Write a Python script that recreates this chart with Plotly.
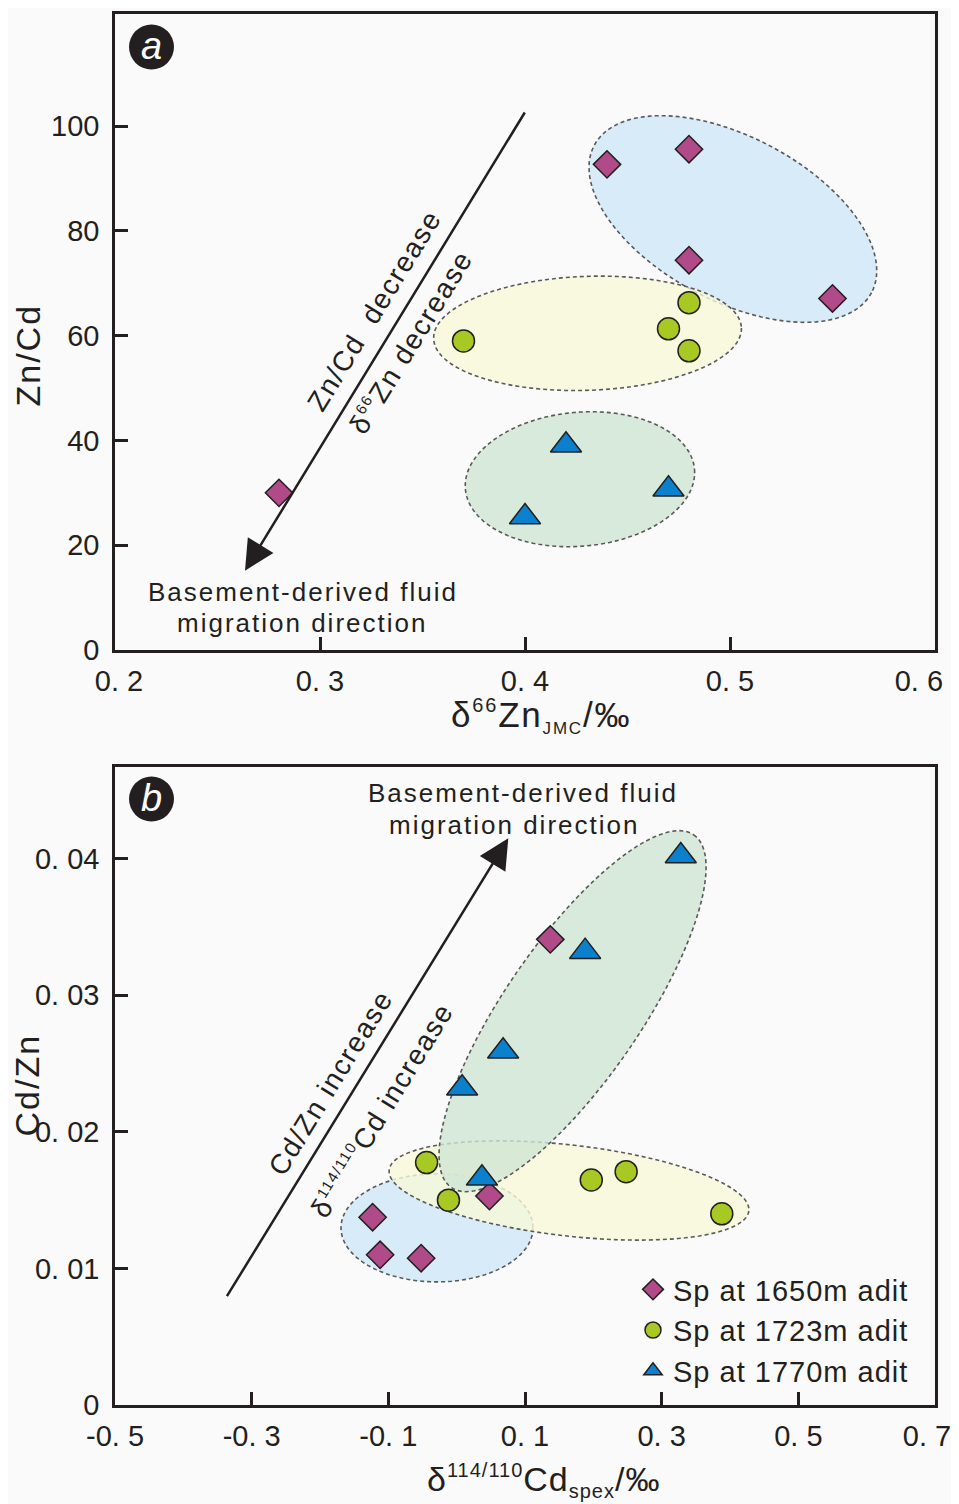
import numpy as np
import plotly.graph_objects as go

# ---------------- data ----------------
# panel a : delta66Zn vs Zn/Cd
a_1650_x = [0.44, 0.48, 0.48, 0.55, 0.28]
a_1650_y = [92.7, 95.6, 74.4, 67.1, 30.0]
a_1723_x = [0.37, 0.48, 0.47, 0.48]
a_1723_y = [59.0, 66.3, 61.3, 57.1]
a_1770_x = [0.42, 0.47, 0.40]
a_1770_y = [39.1, 30.7, 25.4]

# panel b : delta114/110Cd vs Cd/Zn
b_1650_x = [0.137, 0.048, -0.123, -0.112, -0.052]
b_1650_y = [0.0341, 0.0153, 0.01375, 0.0110, 0.01075]
b_1723_x = [-0.044, -0.012, 0.197, 0.248, 0.388]
b_1723_y = [0.01775, 0.0150, 0.01648, 0.01709, 0.0140]
b_1770_x = [0.328, 0.188, 0.068, 0.008, 0.037]
b_1770_y = [0.0402, 0.0332, 0.0259, 0.0232, 0.0166]

a_xticks = [0.2, 0.3, 0.4, 0.5, 0.6]
a_xtext = ["\u00a00. 2", "0. 3", "0. 4", "0. 5", "0. 6\u00a0\u00a0\u00a0\u00a0"]
a_yticks = [0, 20, 40, 60, 80, 100]
b_xticks = [-0.5, -0.3, -0.1, 0.1, 0.3, 0.5, 0.7]
b_xtext = ["-0. 5", "-0. 3", "-0. 1", "0. 1", "0. 3", "0. 5", "0. 7\u00a0\u00a0"]
b_yticks = [0, 0.01, 0.02, 0.03, 0.04]
b_ytext = ["0", "0. 01", "0. 02", "0. 03", "0. 04"]

series_names = ["Sp at 1650m adit", "Sp at 1723m adit", "Sp at 1770m adit"]

# ---------------- styling ----------------
OFF = 8                      # page body margin
W, H = 959 - OFF, 1504 - OFF
PL, PR = 115, 935
A_T, A_B = 13.5, 650
B_T, B_B = 767.3, 1405
A_XR = [0.2, 0.6]
A_YR = [0, 121.5]
B_XR = [-0.5, 0.7]
B_YR = [0, 0.0467]

FONT = "Liberation Sans, Arial, sans-serif"
DARK = "#231f20"
C_DIA = "#b04a88"
C_CIR = "#a8c823"
C_TRI = "#0b80cc"


def fx(px):
    return (px - OFF) / W


def fy(py):
    return 1 - (py - OFF) / H


kxa = (PR - PL) / (A_XR[1] - A_XR[0])
kya = (A_B - A_T) / (A_YR[1] - A_YR[0])
kxb = (PR - PL) / (B_XR[1] - B_XR[0])
kyb = (B_B - B_T) / (B_YR[1] - B_YR[0])


def ls(text, px):
    return f'<span style="letter-spacing:{px}px">{text}</span>'


def ellipse_path(cx, cy, a_px, b_px, ang, kx, ky, n=120):
    t = np.linspace(0, 2 * np.pi, n, endpoint=False)
    th = np.radians(ang)
    dx = a_px * np.cos(t) * np.cos(th) - b_px * np.sin(t) * np.sin(th)
    dy = a_px * np.cos(t) * np.sin(th) + b_px * np.sin(t) * np.cos(th)
    xs = cx + dx / kx
    ys = cy - dy / ky
    return "M " + " L ".join(f"{x:.6f},{y:.7f}" for x, y in zip(xs, ys)) + " Z"


fig = go.Figure()

mk_line = dict(color=DARK, width=1.5)


def add_series(xs, ys, sym, size, color, name, xa, ya, show):
    fig.add_trace(go.Scatter(
        x=xs, y=ys, mode="markers", name=ls(name, 1),
        marker=dict(symbol=sym, size=size, color=color, line=mk_line),
        xaxis=xa, yaxis=ya, showlegend=show, cliponaxis=False))


add_series(a_1650_x, a_1650_y, "diamond", 21, C_DIA, series_names[0], "x", "y", False)
add_series(a_1723_x, a_1723_y, "circle", 22, C_CIR, series_names[1], "x", "y", False)
add_series(a_1770_x, a_1770_y, "triangle-up", 27, C_TRI, series_names[2], "x", "y", False)
add_series(b_1650_x, b_1650_y, "diamond", 21, C_DIA, series_names[0], "x2", "y2", True)
add_series(b_1723_x, b_1723_y, "circle", 22, C_CIR, series_names[1], "x2", "y2", True)
add_series(b_1770_x, b_1770_y, "triangle-up", 27, C_TRI, series_names[2], "x2", "y2", True)

# ---------------- ellipses ----------------
BLUE_F = "rgba(207,231,247,0.8)"
YEL_F = "rgba(247,249,215,0.8)"
GRN_F = "rgba(207,230,211,0.8)"
ELINE = dict(color="#5a5a5a", width=1.6, dash="4px,3px")

shapes = []
for (cx, cy, a, b, ang, col) in [
    (0.5014, 82.27, 157, 82, 28, BLUE_F),
    (0.4305, 60.45, 154, 57, -2, YEL_F),
    (0.4268, 32.6, 115, 67, -5, GRN_F),
]:
    shapes.append(dict(type="path", xref="x", yref="y", layer="below",
                       path=ellipse_path(cx, cy, a, b, ang, kxa, kya),
                       fillcolor=col, line=ELINE))
for (cx, cy, a, b, ang, col) in [
    (-0.0288, 0.01297, 96, 54, 0, BLUE_F),
    (0.1644, 0.01571, 181, 45.5, 6.5, YEL_F),
    (0.1696, 0.02884, 214, 68, -55.5, GRN_F),
]:
    shapes.append(dict(type="path", xref="x2", yref="y2", layer="below",
                       path=ellipse_path(cx, cy, a, b, ang, kxb, kyb),
                       fillcolor=col, line=ELINE))

# panel label discs
for cyp in (47, 799):
    shapes.append(dict(type="circle", xref="paper", yref="paper",
                       x0=fx(151.5 - 22.5), x1=fx(151.5 + 22.5),
                       y0=fy(cyp + 22.5), y1=fy(cyp - 22.5),
                       fillcolor=DARK, line=dict(width=0)))

# ---------------- annotations ----------------
anns = []


def txt(text, x, y, size, xref="paper", yref="paper", angle=0, color=DARK,
        xanchor="center", yanchor="middle"):
    anns.append(dict(text=text, x=x, y=y, xref=xref, yref=yref, showarrow=False,
                     textangle=angle, font=dict(family=FONT, size=size, color=color),
                     xanchor=xanchor, yanchor=yanchor))


def px2a(px, py):
    return A_XR[0] + (px - PL) / kxa, A_YR[0] + (A_B - py) / kya


def px2b(px, py):
    return B_XR[0] + (px - PL) / kxb, B_YR[0] + (B_B - py) / kyb


# panel labels
txt("<i>a</i>", fx(151.5), fy(46), 38, color="white")
txt("<i>b</i>", fx(151.5), fy(798), 38, color="white")

# arrows
tip_a = px2a(245, 570.7)
tail_a = px2a(525.7, 111)
tip_b = px2b(508.3, 838.3)
tail_b = px2b(226, 1297.7)
for tip, tail, xr, yr in [(tip_a, tail_a, "x", "y"), (tip_b, tail_b, "x2", "y2")]:
    anns.append(dict(text="", x=tip[0], y=tip[1], ax=tail[0], ay=tail[1],
                     xref=xr, yref=yr, axref=xr, ayref=yr, showarrow=True,
                     arrowhead=2, arrowsize=2.4, arrowwidth=2.5, arrowcolor=DARK,
                     standoff=0, startstandoff=0))

ANG = -58.5
p = px2a(374, 310)
txt(ls("Zn/Cd&nbsp;&nbsp;decrease", 1.5), p[0], p[1], 28, "x", "y", ANG)
p = px2a(410.7, 341.7)
txt(ls('δ<sup><span style="font-size:15px">66</span></sup>Zn decrease', 1.5), p[0], p[1], 28, "x", "y", ANG)
p = px2a(302.5, 591.7)
txt(ls("Basement-derived fluid", 2), p[0], p[1], 26, "x", "y")
p = px2a(302, 623)
txt(ls("migration direction", 2), p[0], p[1], 26, "x", "y")

p = px2b(330, 1083)
txt(ls("Cd/Zn increase", 1.5), p[0], p[1], 28, "x2", "y2", ANG)
p = px2b(382, 1110)
txt(ls('δ<sup><span style="font-size:15px">114/110</span></sup>Cd increase', 1.5), p[0], p[1], 28, "x2", "y2", ANG)
p = px2b(522.5, 793)
txt(ls("Basement-derived fluid", 2), p[0], p[1], 26, "x2", "y2")
p = px2b(514, 825)
txt(ls("migration direction", 2), p[0], p[1], 26, "x2", "y2")

# axis titles
txt(ls('δ<sup><span style="font-size:20px">66</span></sup>Zn<sub><span style="font-size:17px">JMC</span></sub>/‰', 1.8),
    fx(541), fy(716), 35)
txt(ls('δ<sup><span style="font-size:20px">114/110</span></sup>Cd<sub><span style="font-size:20px">spex</span></sub>/‰', 1),
    fx(543), fy(1480), 34)
txt(ls("Zn/Cd", 2), fx(27.5), fy(355), 34, angle=-90)
txt(ls("Cd/Zn", 2), fx(26.5), fy(1085), 34, angle=-90)

# ---------------- axes ----------------
ax_common = dict(showgrid=False, zeroline=False, showline=True, linewidth=2.5,
                 linecolor=DARK, mirror=True, ticks="inside", ticklen=13,
                 tickwidth=2.5, tickcolor=DARK, automargin=False,
                 ticklabeloverflow="allow",
                 tickfont=dict(family=FONT, size=29, color=DARK))

fig.update_layout(
    width=W, height=H, margin=dict(l=0, r=0, t=0, b=0, autoexpand=False),
    paper_bgcolor="#fafafa", plot_bgcolor="#fafafa",
    font=dict(family=FONT, color=DARK),
    xaxis=dict(domain=[fx(PL), fx(PR)], range=A_XR, anchor="y",
               tickvals=a_xticks, ticktext=a_xtext, ticklabelstandoff=3, **ax_common),
    yaxis=dict(domain=[fy(A_B), fy(A_T)], range=A_YR, anchor="x",
               tickvals=a_yticks, ticklabelstandoff=7, **ax_common),
    xaxis2=dict(domain=[fx(PL), fx(PR)], range=B_XR, anchor="y2",
                tickvals=b_xticks, ticktext=b_xtext, ticklabelstandoff=3, **ax_common),
    yaxis2=dict(domain=[fy(B_B), fy(B_T)], range=B_YR, anchor="x2",
                tickvals=b_yticks, ticktext=b_ytext, ticklabelstandoff=7, **ax_common),
    shapes=shapes,
    annotations=anns,
    showlegend=True,
    legend=dict(x=fx(633), y=fy(1264), xanchor="left", yanchor="top",
                font=dict(family=FONT, size=29, color=DARK),
                bgcolor="rgba(0,0,0,0)", borderwidth=0, tracegroupgap=0),
)

fig.write_html("out.html")
